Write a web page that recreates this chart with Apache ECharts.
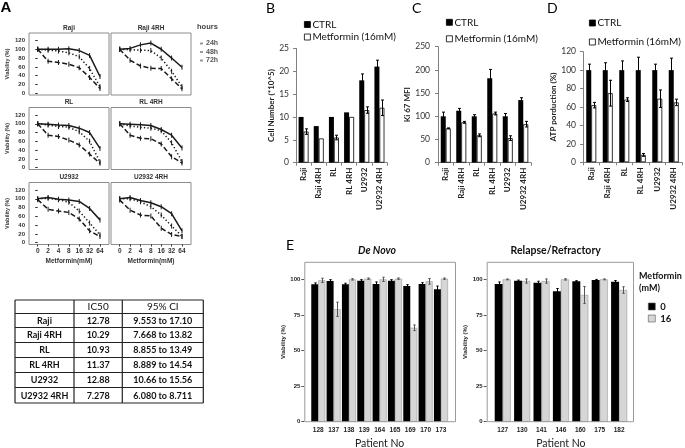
<!DOCTYPE html>
<html>
<head>
<meta charset="utf-8">
<script src="https://cdn.jsdelivr.net/npm/echarts@6/dist/echarts.min.js"></script>
<style>
html,body{margin:0;padding:0;background:#fff;}
#c{width:685px;height:448px;}
</style>
</head>
<body>
<div id="c"></div>
<script>
// ---------------- Panel A : viability curves ----------------
const doses = ['0', '2', '4', '8', '16', '32', '64'];
const viabTicks = [0, 20, 40, 60, 80, 100, 120];
const hours = ['24h', '48h', '72h'];
const raji_24h = [100, 100, 100, 101, 97, 86, 38];
const raji_48h = [100, 98, 96, 92, 83, 56, 15];
const raji_72h = [100, 73, 70, 66, 58, 36, 11];
const raji4rh_24h = [100, 102, 110, 114, 100, 80, 59];
const raji4rh_48h = [100, 99, 98, 97, 80, 50, 15];
const raji4rh_72h = [100, 75, 62, 57, 56, 33, 10];
const rl_24h = [100, 99, 97, 96, 90, 80, 44];
const rl_48h = [100, 97, 94, 92, 82, 60, 13];
const rl_72h = [100, 74, 71, 63, 52, 31, 10];
const rl4rh_24h = [100, 99, 98, 96, 87, 74, 45];
const rl4rh_48h = [100, 95, 92, 90, 84, 57, 14];
const rl4rh_72h = [100, 74, 67, 66, 54, 25, 11];
const u2932_24h = [100, 103, 99, 97, 94, 78, 52];
const u2932_48h = [100, 101, 98, 92, 72, 45, 18];
const u2932_72h = [98, 76, 72, 69, 54, 27, 14];
const u29324rh_24h = [100, 103, 96, 91, 82, 66, 27];
const u29324rh_48h = [100, 100, 93, 82, 63, 38, 15];
const u29324rh_72h = [97, 74, 63, 61, 33, 19, 14];

// ---------------- Table ----------------
const tableHeader = ['', 'IC50', '95% CI'];
const tableLines = ['Raji', 'Raji 4RH', 'RL', 'RL 4RH', 'U2932', 'U2932 4RH'];
const tableIC50 = ['12.78', '10.29', '10.93', '11.37', '12.88', '7.278'];
const tableCI = ['9.553 to 17.10', '7.668 to 13.82', '8.855 to 13.49', '8.889 to 14.54', '10.66 to 15.56', '6.080 to 8.711'];

// ---------------- Panels B, C, D ----------------
const cellLines = ['Raji', 'Raji 4RH', 'RL', 'RL 4RH', 'U2932', 'U2932 4RH'];
const barNames = ['CTRL', 'Metformin (16mM)'];
const cellNumCtrl = [10, 8, 10, 11, 18, 21];
const cellNumCtrlErr = [0, 0, 0, 0, 1.4, 1.4];
const cellNumMet = [6.8, 5.3, 5.5, 10, 11.5, 12];
const cellNumMetErr = [0.6, 0, 0.5, 0, 0.7, 1.7];
const ki67Ctrl = [100, 112, 100, 182, 100, 135];
const ki67CtrlErr = [9, 5, 3.5, 19, 6, 5];
const ki67Met = [74, 87, 59, 106, 53, 83];
const ki67MetErr = [1, 2, 3, 3, 5, 6];
const atpCtrl = [100, 100, 100, 100, 100, 100];
const atpCtrlErr = [6.5, 8, 10, 14, 6.5, 13];
const atpMet = [62, 75, 68, 8, 69, 65];
const atpMetErr = [3, 14, 2, 1.5, 9.5, 3.5];

// ---------------- Panel E ----------------
const deNovoPatients = ['128', '137', '138', '139', '164', '165', '169', '170', '173'];
const deNovo0 = [96.5, 98.8, 96.5, 99, 96.7, 99, 95.3, 96.7, 93];
const deNovo0Err = [1, 1, 0.8, 0.8, 1.5, 0.8, 1, 1, 2.3];
const deNovo16 = [99.3, 79, 100, 100.5, 100, 100.5, 66, 98.6, 100.5];
const deNovo16Err = [1.5, 5, 0.5, 0.5, 1.5, 0.5, 2, 2, 0.5];
const relPatients = ['127', '130', '141', '146', '160', '175', '182'];
const rel0 = [96.7, 99, 97.7, 91.6, 98.6, 99.5, 98.4];
const rel0Err = [1.5, 0.5, 1, 2, 0.5, 0.5, 0.8];
const rel16 = [100, 98.8, 98.8, 100, 89, 100, 92.5];
const rel16Err = [0.3, 1.5, 1.5, 0.5, 6, 0.3, 2.3];
const eTicks = [0, 25, 50, 75, 100];
const metfDoses = ['0', '16'];

// ---------------- build ----------------
const ARIAL = 'Liberation Sans', CAL = 'Lato';
const grid = [], xAxis = [], yAxis = [], series = [], legend = [], graphic = [];

function txt(x, y, text, font, align, fill) {
  return {type: 'text', x: x, y: y, silent: true, z: 10,
    style: {text: text, font: font, fill: fill || '#111',
      textAlign: align || 'left', textVerticalAlign: 'middle',
      align: align || 'left', verticalAlign: 'middle'}};
}
function errBars(g, vals, errs, dx, color, cap) {
  return {type: 'custom', xAxisIndex: g, yAxisIndex: g, silent: true, z: 4, animation: false,
    data: vals.map((v, i) => [i, v, errs[i]]),
    renderItem: function (p, api) {
      const e = api.value(2);
      if (!e) return null;
      const c = api.value(0), v = api.value(1);
      const t = api.coord([c, v + e]), b = api.coord([c, v - e]);
      const x = Math.round(t[0] + dx) + 0.5;
      const st = {stroke: color, lineWidth: 1};
      return {type: 'group', children: [
        {type: 'line', shape: {x1: x, y1: t[1], x2: x, y2: b[1]}, style: st},
        {type: 'line', shape: {x1: x - cap, y1: t[1], x2: x + cap, y2: t[1]}, style: st},
        {type: 'line', shape: {x1: x - cap, y1: b[1], x2: x + cap, y2: b[1]}, style: st}
      ]};
    }};
}

// Panel A
const aCells = [
  ['Raji', raji_24h, raji_48h, raji_72h],
  ['Raji 4RH', raji4rh_24h, raji4rh_48h, raji4rh_72h],
  ['RL', rl_24h, rl_48h, rl_72h],
  ['RL 4RH', rl4rh_24h, rl4rh_48h, rl4rh_72h],
  ['U2932', u2932_24h, u2932_48h, u2932_72h],
  ['U2932 4RH', u29324rh_24h, u29324rh_48h, u29324rh_72h]
];
const aPos = [[29, 33], [111, 33], [29, 107.5], [111, 107.5], [29, 182.5], [111, 182.5]];
const doseIdx = doses.map((d, i) => i);
const aLineTypes = ['solid', [1.3, 2.2], [5, 2.5]];
aCells.forEach((cell, k) => {
  const L = aPos[k][0], T = aPos[k][1];
  const isLeft = k % 2 === 0, isBottom = k >= 4;
  const g = grid.length;
  grid.push({left: L, top: T, width: 80, height: 62, show: true, borderColor: '#8c8c8c', borderWidth: 1,
    backgroundColor: 'rgba(0,0,0,0)', outerBoundsMode: 'none', containLabel: false});
  xAxis.push({gridIndex: g, type: 'value', min: -0.84, max: 6.87,
    axisLine: {show: false, onZero: false}, splitLine: {show: false},
    axisTick: {show: isBottom, length: 2, customValues: doseIdx, lineStyle: {color: '#333'}},
    axisLabel: {show: isBottom, customValues: doseIdx, formatter: v => doses[v], fontSize: 6.5,
      fontWeight: 'bold', fontFamily: ARIAL, color: '#333', margin: 3},
    name: isBottom ? 'Metformin(mM)' : '', nameLocation: 'middle', nameGap: 13,
    nameTextStyle: {fontSize: 6.5, fontWeight: 'bold', fontFamily: ARIAL, color: '#333'}});
  yAxis.push({gridIndex: g, type: 'value', min: -4, max: 137,
    axisLine: {show: false}, splitLine: {show: false},
    axisTick: {show: isLeft, length: 2.5, customValues: viabTicks, lineStyle: {color: '#333'}},
    axisLabel: {show: isLeft, customValues: viabTicks, fontSize: 6, fontWeight: 'bold',
      fontFamily: ARIAL, color: '#333', margin: 4},
    name: isLeft ? 'Viability (%)' : '', nameLocation: 'middle', nameGap: 19,
    nameTextStyle: {fontSize: 5.5, fontWeight: 'bold', fontFamily: ARIAL, color: '#333'}});
  graphic.push(txt(L + 40, T - 5, cell[0], 'bold 6.5px "Liberation Sans"', 'center', '#333'));
  for (let h = 0; h < 3; h++) {
    series.push({type: 'line', name: hours[h], xAxisIndex: g, yAxisIndex: g, silent: true, animation: false,
      data: cell[h + 1].map((v, i) => [i, v]),
      symbol: 'rect', symbolSize: [1, 5],
      itemStyle: {color: '#1a1a1a'},
      lineStyle: {color: '#1a1a1a', width: 1.5, type: aLineTypes[h]}});
  }
});
legend.push({data: hours, left: 195, top: 34.5, orient: 'vertical', itemWidth: 3, itemHeight: 2, itemGap: 0.5,
  icon: 'rect', selectedMode: false, itemStyle: {color: '#999'},
  textStyle: {fontSize: 7, fontWeight: 'bold', fontFamily: ARIAL, color: '#555', lineHeight: 8, padding: [0, 0, 0, -2]}});
graphic.push(txt(197, 27.3, 'hours', 'bold 7.5px "Liberation Sans"', 'left', '#444'));

// Table
const tblCols = [15, 74, 122.3, 203.3];
const tblRows = [300, 313.5, 327.5, 342.5, 357.5, 372.5, 387.5, 403];
tblRows.forEach(y => graphic.push({type: 'line', silent: true,
  shape: {x1: tblCols[0], y1: y, x2: tblCols[3], y2: y}, style: {stroke: '#222', lineWidth: 1.2}}));
tblCols.forEach(x => graphic.push({type: 'line', silent: true,
  shape: {x1: x, y1: tblRows[0], x2: x, y2: tblRows[tblRows.length - 1]}, style: {stroke: '#222', lineWidth: 1.2}}));
const colC = [0, 1, 2].map(i => (tblCols[i] + tblCols[i + 1]) / 2);
tableHeader.forEach((h, i) => { if (h) graphic.push(txt(colC[i], (tblRows[0] + tblRows[1]) / 2 + 0.5, h, '10px Lato', 'center', '#111')); });
tableLines.forEach((n, r) => {
  const y = (tblRows[r + 1] + tblRows[r + 2]) / 2 + 0.5;
  graphic.push(txt(colC[0], y, n, 'bold 9px Lato', 'center', '#111'));
  graphic.push(txt(colC[1], y, tableIC50[r], 'bold 9px Lato', 'center', '#111'));
  graphic.push(txt(colC[2], y, tableCI[r], 'bold 9px Lato', 'center', '#111'));
});

// Panels B, C, D
function barPanel(cfg) {
  const g = grid.length;
  grid.push({left: cfg.left, top: cfg.top, width: cfg.width, height: cfg.height, outerBoundsMode: 'none', containLabel: false});
  xAxis.push({gridIndex: g, type: 'category', data: cellLines,
    axisLine: {show: true, onZero: false, lineStyle: {color: '#808080', width: 1}},
    axisTick: {show: true, length: 3, interval: 0, lineStyle: {color: '#808080'}},
    axisLabel: {interval: 0, rotate: 90, fontSize: 8, fontWeight: 'bold', fontFamily: CAL, color: '#222', margin: 5}});
  yAxis.push({gridIndex: g, type: 'value', min: 0, max: cfg.max, interval: cfg.interval,
    axisLine: {show: true, lineStyle: {color: '#808080'}},
    axisTick: {show: true, length: 3, lineStyle: {color: '#808080'}},
    splitLine: {show: false},
    axisLabel: {fontSize: 8.5, fontFamily: CAL, color: '#333', margin: cfg.labelMargin},
    name: cfg.yName, nameLocation: 'middle', nameGap: cfg.nameGap,
    nameTextStyle: {fontSize: 8, fontWeight: 'bold', fontFamily: CAL, color: '#222'}});
  series.push({type: 'bar', name: barNames[0], xAxisIndex: g, yAxisIndex: g, data: cfg.ctrl, barWidth: 5, barGap: '0%',
    animation: false, silent: true, itemStyle: {color: '#000', borderColor: '#000', borderWidth: 0}});
  series.push({type: 'bar', name: barNames[1], xAxisIndex: g, yAxisIndex: g, data: cfg.met, barWidth: 5, barGap: '0%',
    animation: false, silent: true, itemStyle: {color: '#fff', borderColor: '#000', borderWidth: 0.8}});
  series.push(errBars(g, cfg.ctrl, cfg.ctrlErr, -2.5, '#000', 1.5));
  series.push(errBars(g, cfg.met, cfg.metErr, 2.5, '#000', 1.5));
  legend.push({data: barNames, left: cfg.legLeft, top: cfg.legTop, orient: 'vertical', itemWidth: 6, itemHeight: 6,
    itemGap: cfg.legGap, icon: 'rect', selectedMode: false, itemStyle: {borderColor: '#000', borderWidth: 0.8},
    textStyle: {fontSize: 10, fontFamily: CAL, color: '#111', padding: [0, 0, 0, -3]}});
}
barPanel({left: 296, top: 48.3, width: 91, height: 114.4, max: 25, interval: 5, labelMargin: 7,
  yName: 'Cell Number (*10^5)', nameGap: 19, ctrl: cellNumCtrl, ctrlErr: cellNumCtrlErr, met: cellNumMet, metErr: cellNumMetErr,
  legLeft: 299, legTop: 14.5, legGap: 2.5});
barPanel({left: 438, top: 46.7, width: 93, height: 116, max: 250, interval: 50, labelMargin: 8,
  yName: 'Ki 67 MFI', nameGap: 21, ctrl: ki67Ctrl, ctrlErr: ki67CtrlErr, met: ki67Met, metErr: ki67MetErr,
  legLeft: 441, legTop: 12.3, legGap: 6.5});
barPanel({left: 583, top: 51.7, width: 99, height: 110.6, max: 120, interval: 20, labelMargin: 7,
  yName: 'ATP porduction (%)', nameGap: 22, ctrl: atpCtrl, ctrlErr: atpCtrlErr, met: atpMet, metErr: atpMetErr,
  legLeft: 584, legTop: 13, legGap: 9});

// Panel E
function ePanel(cfg) {
  const g = grid.length;
  grid.push({left: cfg.left, top: 262.3, width: cfg.width, height: 159.4, outerBoundsMode: 'none', containLabel: false});
  xAxis.push({gridIndex: g, type: 'category', data: cfg.cats,
    axisLine: {show: false}, axisTick: {show: false},
    axisLabel: {interval: 0, fontSize: 6.5, fontWeight: 'bold', fontFamily: ARIAL, color: '#222', margin: 5},
    name: 'Patient No', nameLocation: 'middle', nameGap: 16.5,
    nameTextStyle: {fontSize: 10.5, fontFamily: CAL, color: '#222'}});
  yAxis.push({gridIndex: g, type: 'value', min: 0, max: 112, offset: cfg.offset,
    axisLine: {show: false}, splitLine: {show: false},
    axisTick: {show: true, length: 3, customValues: eTicks, lineStyle: {color: '#555'}},
    axisLabel: {customValues: eTicks, fontSize: 6, fontWeight: 'bold', fontFamily: ARIAL, color: '#222', margin: 4},
    name: 'Viability (%)', nameLocation: 'middle', nameGap: 18,
    nameTextStyle: {fontSize: 6, fontWeight: 'bold', fontFamily: ARIAL, color: '#222'}});
  series.push({type: 'bar', name: metfDoses[0], xAxisIndex: g, yAxisIndex: g, data: cfg.v0, barWidth: cfg.bw, barGap: '0%',
    animation: false, silent: true, itemStyle: {color: '#000', borderColor: '#000', borderWidth: 0}});
  series.push({type: 'bar', name: metfDoses[1], xAxisIndex: g, yAxisIndex: g, data: cfg.v16, barWidth: cfg.bw, barGap: '0%',
    animation: false, silent: true, itemStyle: {color: '#d6d6d6', borderColor: '#8a8a8a', borderWidth: 0.5}});
  series.push(errBars(g, cfg.v0, cfg.e0, -cfg.bw / 2, '#000', 1.2));
  series.push(errBars(g, cfg.v16, cfg.e16, cfg.bw / 2, '#555', 1.2));
  graphic.push({type: 'rect', silent: true, z: 5,
    shape: {x: cfg.frameX + 0.5, y: 262.3, width: cfg.frameW, height: 159.4},
    style: {fill: 'none', stroke: '#9a9a9a', lineWidth: 1}});
}
ePanel({left: 310.6, width: 138, offset: 6.3, cats: deNovoPatients, bw: 7, v0: deNovo0, e0: deNovo0Err,
  v16: deNovo16, e16: deNovo16Err, frameX: 304.3, frameW: 150.7});
ePanel({left: 493, width: 135.8, offset: 6.3, cats: relPatients, bw: 8, v0: rel0, e0: rel0Err,
  v16: rel16, e16: rel16Err, frameX: 486.7, frameW: 146.3});
legend.push({data: metfDoses, left: 643, top: 296.5, orient: 'vertical', itemWidth: 7, itemHeight: 7, itemGap: 2,
  icon: 'rect', selectedMode: false, itemStyle: {borderColor: '#555', borderWidth: 0.6},
  textStyle: {fontSize: 9.5, fontWeight: 'bold', fontFamily: CAL, color: '#111'}});
graphic.push(txt(377, 250.7, 'De Novo', 'italic bold 10.5px Lato', 'center', '#111'));
graphic.push(txt(555.7, 250.7, 'Relapse/Refractory', 'bold 10.5px Lato', 'center', '#111'));
graphic.push(txt(639, 276, 'Metformin', 'bold 9px Lato', 'left', '#111'));
graphic.push(txt(639, 288.5, '(mM)', 'bold 9px Lato', 'left', '#111'));

// Panel letters
graphic.push(txt(0.5, 8, 'A', 'bold 15px "Liberation Sans"', 'left', '#000'));
graphic.push(txt(266, 8, 'B', '14px Lato', 'left', '#000'));
graphic.push(txt(412, 8, 'C', '14px Lato', 'left', '#000'));
graphic.push(txt(547, 8, 'D', '14px Lato', 'left', '#000'));
graphic.push(txt(286, 245, 'E', '14px Lato', 'left', '#000'));

const chart = echarts.init(document.getElementById('c'), null, {renderer: 'canvas', width: 685, height: 448});
chart.setOption({
  animation: false,
  backgroundColor: '#fff',
  textStyle: {fontFamily: CAL},
  grid: grid, xAxis: xAxis, yAxis: yAxis, series: series, legend: legend, graphic: graphic
});
</script>
</body>
</html>
